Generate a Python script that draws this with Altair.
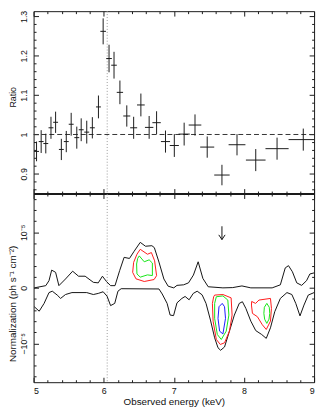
import altair as alt
import pandas as pd

# ---------------- top panel: data/model ratio ----------------
energy = [5.042, 5.108, 5.174, 5.248, 5.314, 5.396, 5.466, 5.536, 5.616, 5.679,
          5.758, 5.838, 5.925, 5.992, 6.076, 6.147, 6.231, 6.329, 6.427, 6.530,
          6.648, 6.754, 6.881, 7.007, 7.147, 7.302, 7.476, 7.686, 7.901, 8.168,
          8.472, 8.846]
energy_hw = [0.035, 0.035, 0.035, 0.035, 0.035, 0.035, 0.035, 0.035, 0.035, 0.035,
             0.035, 0.035, 0.035, 0.04, 0.04, 0.04, 0.045, 0.05, 0.05, 0.055,
             0.06, 0.06, 0.065, 0.065, 0.08, 0.09, 0.10, 0.11, 0.12, 0.14,
             0.165, 0.21]
ratio = [0.957, 0.982, 0.977, 1.017, 1.031, 0.962, 0.982, 1.026, 0.992, 1.012,
         1.006, 1.017, 1.070, 1.262, 1.193, 1.176, 1.107, 1.047, 1.017, 1.075,
         1.018, 1.030, 0.982, 0.972, 1.001, 1.024, 0.968, 0.897, 0.974, 0.935,
         0.964, 0.987]
ratio_err = [0.025, 0.029, 0.025, 0.028, 0.027, 0.027, 0.027, 0.029, 0.028, 0.029,
             0.029, 0.027, 0.029, 0.033, 0.035, 0.034, 0.030, 0.027, 0.028, 0.029,
             0.029, 0.029, 0.028, 0.029, 0.029, 0.027, 0.027, 0.026, 0.027, 0.028,
             0.028, 0.028]
line_energy = [6.05]

# ---------------- bottom panel: normalization (units of 1e-5) ----------------
upper_e = [5.01, 5.174, 5.22, 5.258, 5.314, 5.361, 5.455, 5.557, 5.641, 5.735,
           5.852, 5.922, 5.982, 6.039, 6.098, 6.161, 6.227, 6.291, 6.367, 6.434,
           6.521, 6.596, 6.687, 6.722, 6.788, 6.858, 6.919, 6.999, 7.045, 7.139,
           7.209, 7.279, 7.347, 7.414, 7.49, 7.70, 7.84, 7.971, 8.098, 8.402,
           8.519, 8.589, 8.635, 8.691, 8.753, 8.823, 8.893, 8.94, 9.0]
upper_v = [0.0, 0.04, 0.13, 0.32, 0.28, 0.04, 0.16, 0.30, 0.21, 0.21,
           0.10, 0.09, 0.21, 0.115, 0.04, 0.04, 0.31, 0.55, 0.53, 0.66,
           0.82, 0.75, 0.76, 0.725, 0.465, 0.16, 0.03, 0.0, 0.045, 0.055,
           0.09, 0.23, 0.47, 0.17, 0.02, 0.0, 0.005, 0.035, 0.0, 0.0,
           0.055, 0.36, 0.40, 0.29, 0.09, 0.045, 0.13, 0.25, 0.27]
lower_e = [5.01, 5.08, 5.15, 5.22, 5.267, 5.337, 5.385, 5.455, 5.547, 5.758,
           5.852, 5.922, 5.992, 6.048, 6.098, 6.157, 6.203, 6.249, 6.788, 6.834,
           6.904, 6.947, 6.996, 7.045, 7.115, 7.161, 7.218, 7.277, 7.333, 7.403,
           7.459, 7.522, 7.582, 7.63, 7.667, 7.723, 7.793, 7.863, 7.933, 7.978,
           8.027, 8.098, 8.168, 8.252, 8.318, 8.378, 8.439, 8.519, 8.613, 8.683,
           8.739, 8.799, 8.856, 8.917, 9.0]
lower_v = [-0.34, -0.42, -0.28, -0.085, -0.06, -0.13, -0.19, -0.12, -0.085, -0.085,
           -0.12, -0.10, -0.07, -0.15, -0.32, -0.28, -0.06, -0.015, -0.02, -0.11,
           -0.28, -0.49, -0.50, -0.27, -0.19, -0.155, -0.215, -0.10, -0.06, -0.125,
           -0.28, -0.58, -0.90, -1.08, -1.125, -1.065, -0.78, -0.49, -0.28, -0.25,
           -0.37, -0.60, -0.77, -0.84, -0.91, -0.72, -0.43, -0.19, -0.085, -0.12,
           -0.28, -0.505, -0.31, -0.13, -0.085]

# confidence contours (energy, normalization), closed polygons
c1_red_e = [6.521, 6.624, 6.68, 6.726, 6.754, 6.718, 6.578, 6.46, 6.413, 6.427, 6.474, 6.521]
c1_red_v = [0.695, 0.606, 0.636, 0.488, 0.22, 0.15, 0.115, 0.163, 0.28, 0.46, 0.606, 0.695]
c1_grn_e = [6.507, 6.578, 6.648, 6.694, 6.694, 6.624, 6.521, 6.474, 6.469, 6.484, 6.507]
c1_grn_v = [0.576, 0.47, 0.505, 0.447, 0.222, 0.234, 0.193, 0.252, 0.43, 0.53, 0.576]
c2_red_e = [7.582, 7.70, 7.817, 7.831, 7.793, 7.723, 7.663, 7.606, 7.56, 7.55, 7.568, 7.582]
c2_red_v = [-0.13, -0.12, -0.18, -0.49, -0.78, -0.99, -1.02, -0.93, -0.60, -0.28, -0.16, -0.13]
c2_grn_e = [7.606, 7.70, 7.77, 7.785, 7.747, 7.677, 7.62, 7.582, 7.582, 7.606]
c2_grn_v = [-0.16, -0.145, -0.22, -0.49, -0.78, -0.93, -0.84, -0.55, -0.28, -0.16]
c2_blu_e = [7.69, 7.723, 7.737, 7.70, 7.653, 7.63, 7.644, 7.69]
c2_blu_v = [-0.28, -0.34, -0.55, -0.83, -0.78, -0.55, -0.34, -0.28]
c3_red_e = [8.11, 8.166, 8.214, 8.378, 8.392, 8.378, 8.318, 8.262, 8.192, 8.121, 8.107, 8.11]
c3_red_v = [-0.245, -0.28, -0.22, -0.19, -0.37, -0.60, -0.75, -0.665, -0.52, -0.46, -0.31, -0.245]
c3_grn_e = [8.326, 8.361, 8.368, 8.357, 8.326, 8.295, 8.284, 8.291, 8.326]
c3_grn_v = [-0.28, -0.35, -0.46, -0.565, -0.64, -0.565, -0.46, -0.35, -0.28]

# downward arrow marking the absorption feature
arrow_e = [7.686]
arrow_top = [1.11]
arrow_tip = [0.87]
arrow_head_e = [7.641, 7.686, 7.731]
arrow_head_v = [0.955, 0.87, 0.955]

# axis tick positions
x_major = [5, 6, 7, 8, 9]
x_minor = [5.2, 5.4, 5.6, 5.8, 6.2, 6.4, 6.6, 6.8, 7.2, 7.4, 7.6, 7.8, 8.2, 8.4, 8.6, 8.8]
top_major = [0.9, 1.0, 1.1, 1.2, 1.3]
top_minor = [0.86, 0.88, 0.92, 0.94, 0.96, 0.98, 1.02, 1.04, 1.06, 1.08,
             1.12, 1.14, 1.16, 1.18, 1.22, 1.24, 1.26, 1.28]
bot_major = [-1, 0, 1]
bot_minor = [-1.6, -1.4, -1.2, -0.8, -0.6, -0.4, -0.2, 0.2, 0.4, 0.6, 0.8, 1.2, 1.4, 1.6]

# ---------------- layout ----------------
W, H = 285, 377
SPLIT = 185.3
XS = alt.Scale(domain=[5, 9], nice=False, zero=False)
TS = alt.Scale(domain=[0.85, 1.3133], range=[SPLIT, 0], nice=False, zero=False)
BS = alt.Scale(domain=[-1.7, 1.7], range=[H, SPLIT], nice=False, zero=False)
FONT = "Liberation Sans"
INK = "#1a1a1a"

top_df = pd.DataFrame({"E": energy, "hw": energy_hw, "r": ratio, "err": ratio_err})
top_df["lo"] = top_df["r"] - top_df["err"]
top_df["hi"] = top_df["r"] + top_df["err"]
top_df["e0"] = top_df["E"] - top_df["hw"]
top_df["e1"] = top_df["E"] + top_df["hw"]

vbars = alt.Chart(top_df).mark_rule(color=INK, strokeWidth=1).encode(
    x=alt.X("E:Q", scale=XS, axis=None),
    y=alt.Y("lo:Q", scale=TS, axis=None), y2="hi:Q")
hbars = alt.Chart(top_df).mark_rule(color=INK, strokeWidth=1, clip=True).encode(
    x=alt.X("e0:Q", scale=XS, axis=None), x2="e1:Q",
    y=alt.Y("r:Q", scale=TS, axis=None))
unity = alt.Chart(pd.DataFrame({"u": [1.0]})).mark_rule(
    color="#333", strokeWidth=1, strokeDash=[5, 3]).encode(
    y=alt.Y("u:Q", scale=TS, axis=None))
dotted = alt.Chart(pd.DataFrame({"x": line_energy})).mark_rule(
    color="#999", strokeWidth=1, strokeDash=[1, 2]).encode(
    x=alt.X("x:Q", scale=XS, axis=None))

curves = pd.concat([
    pd.DataFrame({"E": upper_e, "v": upper_v, "c": "up"}),
    pd.DataFrame({"E": lower_e, "v": lower_v, "c": "low"}),
])
curve_layer = alt.Chart(curves).mark_line(color="#111", strokeWidth=1).encode(
    x=alt.X("E:Q", scale=XS, axis=None),
    y=alt.Y("v:Q", scale=BS, axis=None),
    detail="c:N")

cont = []
for cid, (ce, cv, col) in enumerate([
        (c1_red_e, c1_red_v, "#ff1a1a"), (c1_grn_e, c1_grn_v, "#14e614"),
        (c2_red_e, c2_red_v, "#ff1a1a"), (c2_grn_e, c2_grn_v, "#14e614"),
        (c2_blu_e, c2_blu_v, "#1a1aff"),
        (c3_red_e, c3_red_v, "#ff1a1a"), (c3_grn_e, c3_grn_v, "#14e614")]):
    cont.append(pd.DataFrame({"E": ce, "v": cv, "cid": cid, "col": col,
                              "i": list(range(len(ce)))}))
cont_df = pd.concat(cont)
contour_layer = alt.Chart(cont_df).mark_line(strokeWidth=1).encode(
    x=alt.X("E:Q", scale=XS, axis=None),
    y=alt.Y("v:Q", scale=BS, axis=None),
    color=alt.Color("col:N", scale=None),
    detail="cid:N", order="i:Q")

arrow_shaft = alt.Chart(pd.DataFrame({"E": arrow_e, "a": arrow_top, "b": arrow_tip})).mark_rule(
    color="#111", strokeWidth=1).encode(
    x=alt.X("E:Q", scale=XS, axis=None),
    y=alt.Y("a:Q", scale=BS, axis=None), y2="b:Q")
arrow_head = alt.Chart(pd.DataFrame({"E": arrow_head_e, "v": arrow_head_v,
                                     "i": [0, 1, 2]})).mark_line(
    color="#111", strokeWidth=1).encode(
    x=alt.X("E:Q", scale=XS, axis=None),
    y=alt.Y("v:Q", scale=BS, axis=None), order="i:Q")


def xax(values, orient, offset, size, domain=False, **kw):
    ax = alt.Axis(values=values, orient=orient, offset=offset, tickSize=size,
                  ticks=size > 0, labels=False, domain=domain, domainColor=INK,
                  domainWidth=2, tickColor=INK, tickWidth=1, grid=False,
                  title=None, **kw)
    return alt.Chart(pd.DataFrame({"v": [5.0, 9.0]})).mark_point(opacity=0).encode(
        x=alt.X("v:Q", scale=XS, axis=ax))


def yax(values, scale, orient, offset, size, **kw):
    ax = alt.Axis(values=values, orient=orient, offset=offset, tickSize=size,
                  ticks=True, labels=False, domain=False, tickColor=INK,
                  tickWidth=1, grid=False, title=None, **kw)
    lo, hi = scale.domain
    return alt.Chart(pd.DataFrame({"v": [lo, hi]})).mark_point(opacity=0).encode(
        y=alt.Y("v:Q", scale=scale, axis=ax))


axes = []
# x ticks pointing inward on every horizontal edge
for vals, size in [(x_major, 5), (x_minor, 2.5)]:
    axes.append(xax(vals, "bottom", -H, size))               # top frame
    axes.append(xax(vals, "top", -SPLIT, size))              # divider, up
    axes.append(xax(vals, "bottom", -(H - SPLIT), size))     # divider, down
    axes.append(xax(vals, "top", -H, size))                  # bottom frame
# divider line
axes.append(xax(x_major, "top", -SPLIT, 0, domain=True))
# x labels
axes.append(alt.Chart(pd.DataFrame({"v": [5.0, 9.0]})).mark_point(opacity=0).encode(
    x=alt.X("v:Q", scale=XS, axis=alt.Axis(
        values=x_major, format="d", orient="bottom", ticks=False, tickSize=0,
        domain=False, grid=False, labelPadding=4.5, labelFontSize=9,
        title="Observed energy (keV)", titleFontSize=10, titlePadding=1))))

# y ticks, both panels, both sides
for vals, scale, size in [(top_major, TS, 5), (top_minor, TS, 2.5),
                          (bot_major, BS, 5), (bot_minor, BS, 2.5)]:
    axes.append(yax(vals, scale, "right", -W, size))   # left frame, ticks inward
    axes.append(yax(vals, scale, "left", -W, size))    # right frame, ticks inward

# y labels and titles
axes.append(alt.Chart(pd.DataFrame({"v": [0.85, 1.3]})).mark_point(opacity=0).encode(
    y=alt.Y("v:Q", scale=TS, axis=alt.Axis(
        values=top_major, format=".1~f", orient="left", ticks=False, tickSize=0,
        domain=False, grid=False, labelAngle=270, labelAlign="center",
        labelBaseline="bottom", labelPadding=5, labelFontSize=9,
        title="Ratio", titleAngle=270, titleAlign="center",
        titleBaseline="alphabetic", titleX=-18, titleY=87, titleFontSize=9))))
axes.append(alt.Chart(pd.DataFrame({"v": [-1.7, 1.7]})).mark_point(opacity=0).encode(
    y=alt.Y("v:Q", scale=BS, axis=alt.Axis(
        values=bot_major, orient="left", ticks=False, tickSize=0,
        domain=False, grid=False, labelAngle=270, labelAlign="center",
        labelBaseline="bottom", labelPadding=5, labelFontSize=9,
        labelExpr="datum.value > 0.5 ? '10⁻⁵' : (datum.value < -0.5 ? '−10⁻⁵' : '0')",
        title="Normalization (ph s⁻¹ cm⁻²)", titleAngle=270, titleAlign="center",
        titleBaseline="alphabetic", titleX=-18, titleY=297, titleFontSize=10))))

chart = alt.layer(
    *axes, dotted, unity, vbars, hbars, curve_layer, contour_layer,
    arrow_shaft, arrow_head
).resolve_scale(
    y="independent"
).resolve_axis(
    x="independent", y="independent"
).properties(
    width=W, height=H,
    autosize=alt.AutoSizeParams(type="none"),
    padding={"left": 26, "top": 0, "right": 5, "bottom": 23},
).configure_view(
    stroke=INK, strokeWidth=1
).configure_axis(
    labelFont=FONT, titleFont=FONT, labelColor="#111", titleColor="#111",
    titleFontWeight="normal"
)

chart.save("out.html", embed_options={"renderer": "svg", "actions": False})
